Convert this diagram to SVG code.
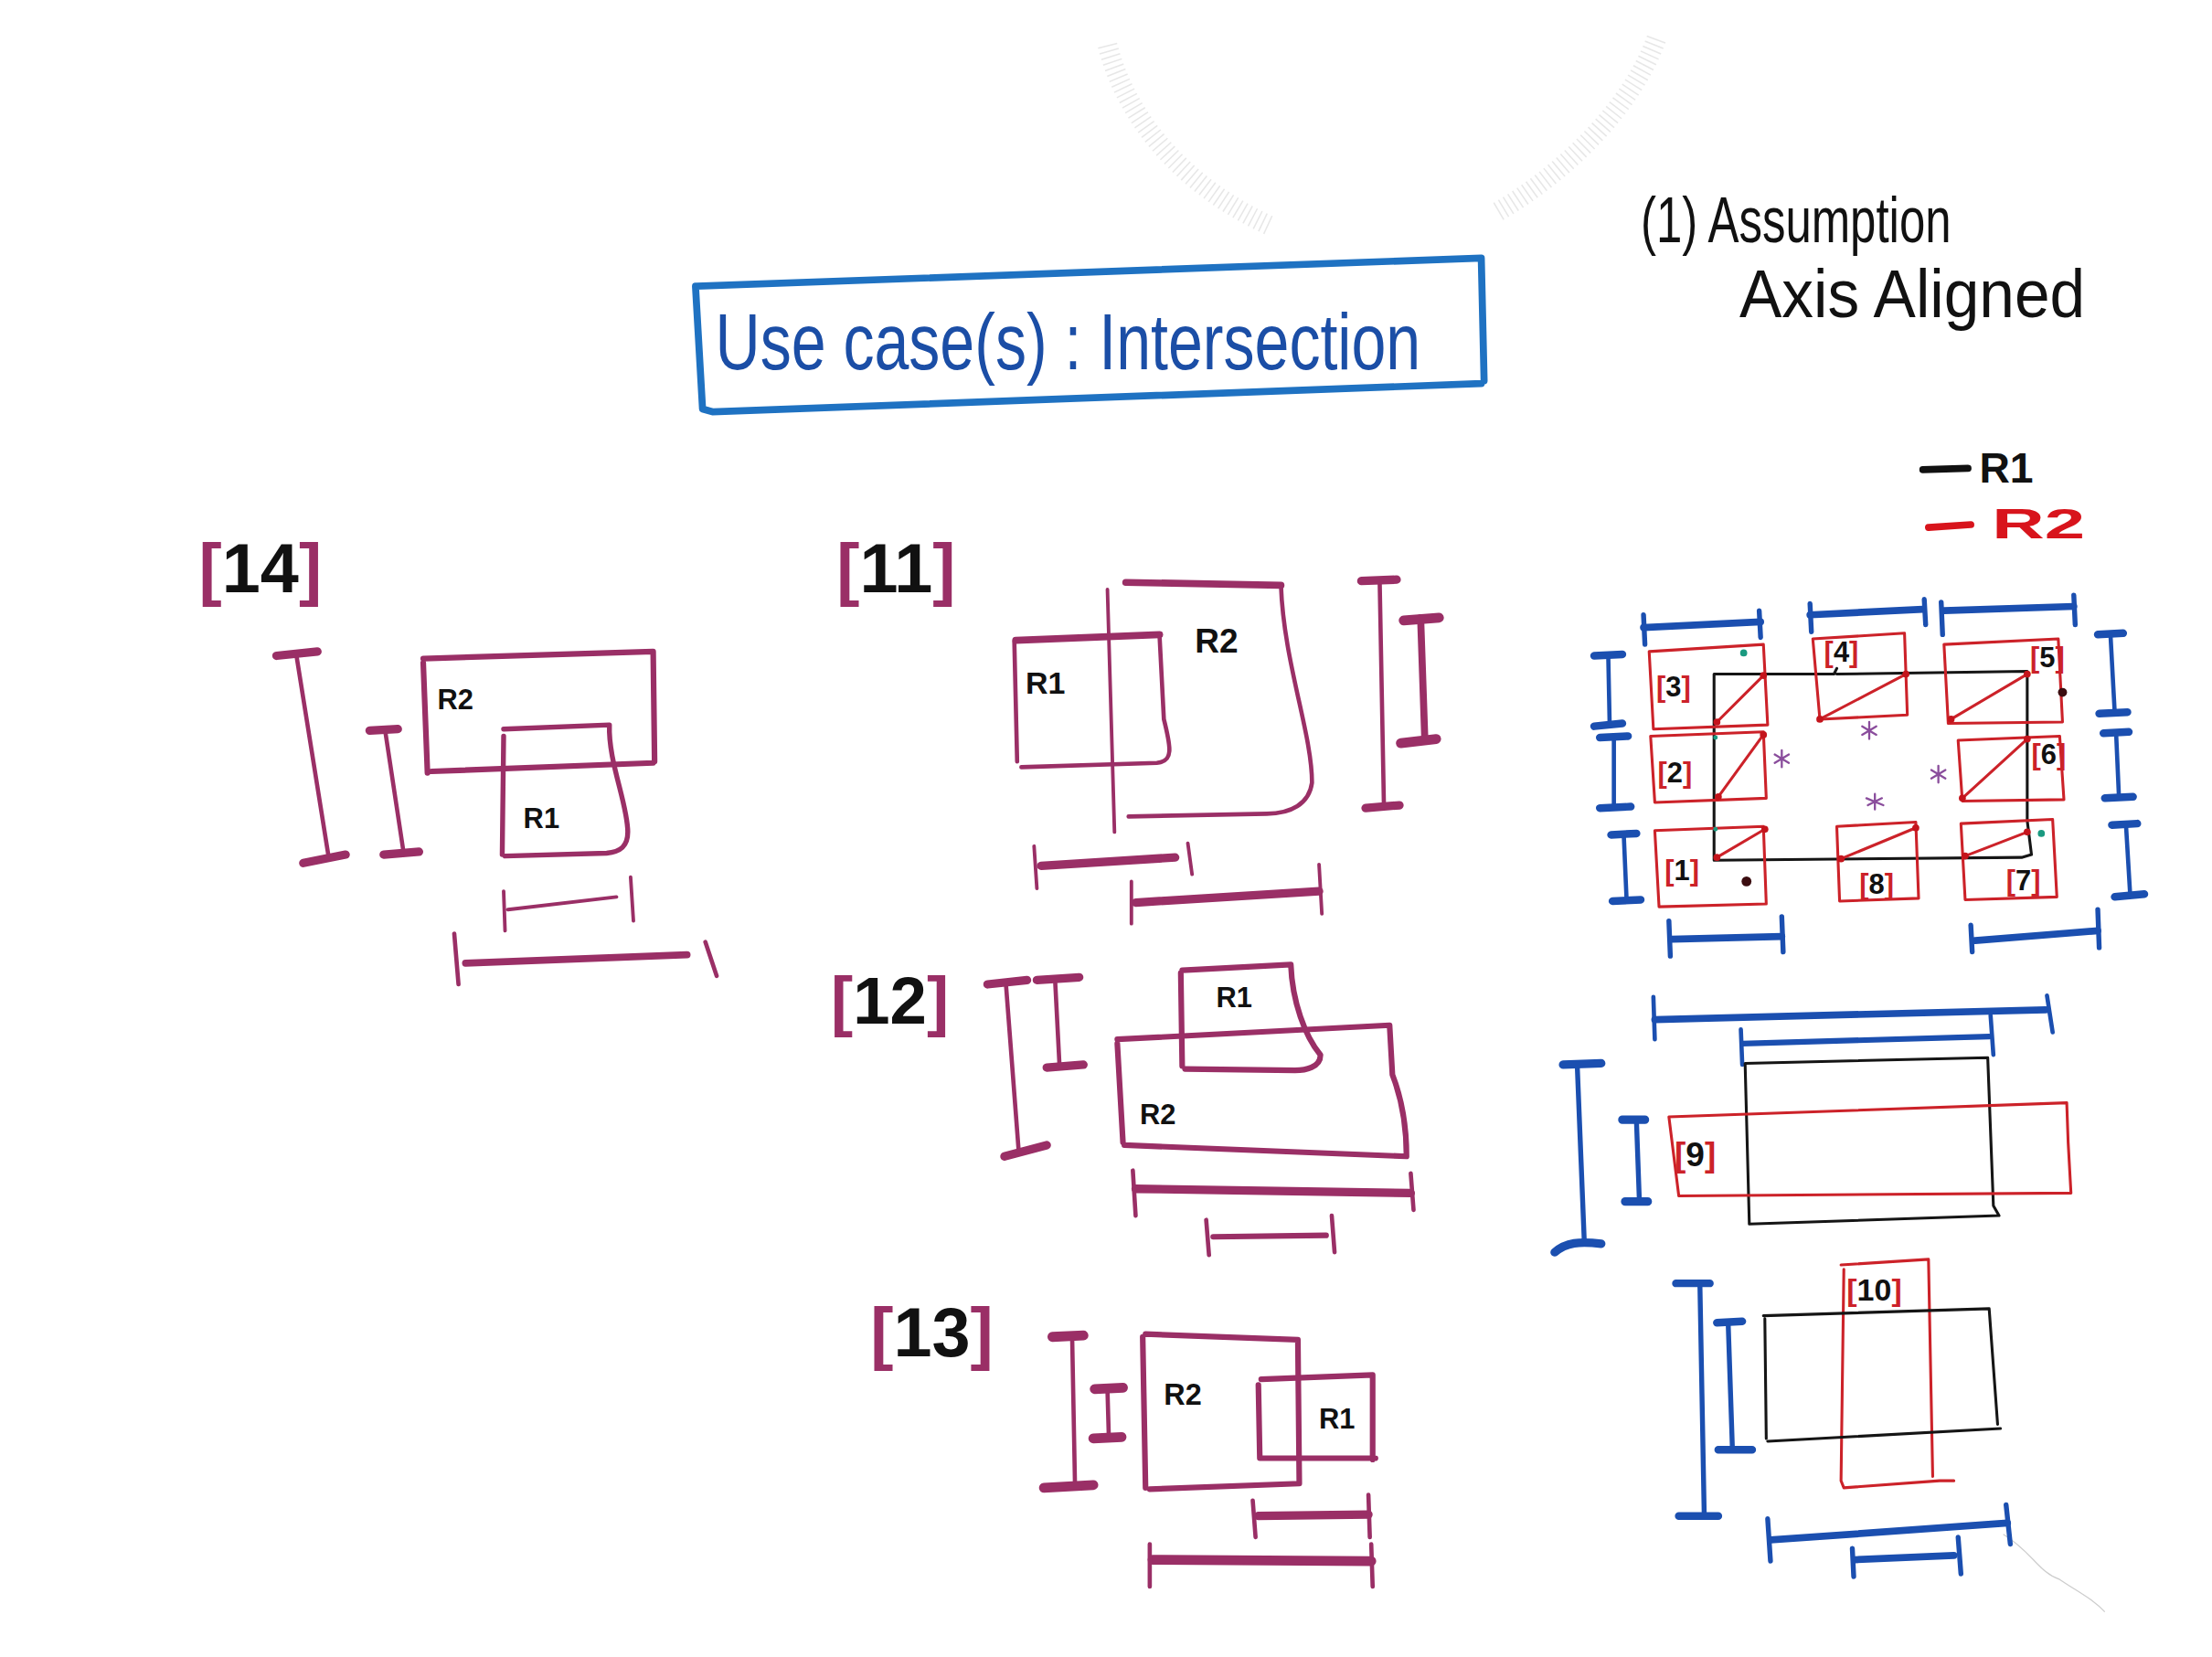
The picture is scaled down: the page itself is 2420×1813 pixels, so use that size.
<svg xmlns="http://www.w3.org/2000/svg" width="2420" height="1813" viewBox="0 0 2420 1813">
<style>
.m{stroke:#9a2f66;fill:none;stroke-linecap:round;stroke-linejoin:round}
.b{stroke:#1b4fb0;fill:none;stroke-linecap:round;stroke-linejoin:round}
.r{stroke:#cc2229;fill:none;stroke-width:2;stroke-linejoin:round;stroke-linecap:round}
.k{stroke:#151515;fill:none;stroke-width:2;stroke-linejoin:round;stroke-linecap:round}
.lbl{font-family:"Liberation Sans",Arial,sans-serif;font-weight:bold}
.rl{font-family:"Liberation Sans",Arial,sans-serif;font-weight:bold;fill:#111}
.mk{fill:#9a2f66}
.rk{fill:#cc2229}
.dk{fill:#111}
.rd{fill:#c4141c}
.ast{stroke:#8a4d9c;stroke-width:1.5;stroke-linecap:round}
</style>
<rect width="2420" height="1813" fill="#ffffff"/>
<g transform="scale(1.5434,1.543)">
<g id="smudge" opacity="0.3">
<path d="M785,32 C800,90 845,135 900,160" stroke="#b0b0b0" stroke-width="14" fill="none" stroke-dasharray="1 3"/>
<path d="M1062,150 C1110,122 1158,75 1175,25" stroke="#b0b0b0" stroke-width="14" fill="none" stroke-dasharray="1 3"/>
<path d="M1420,1088 C1440,1100 1445,1115 1460,1120 C1475,1130 1485,1135 1492,1143" stroke="#555" stroke-width="0.8" fill="none"/>
</g>

<g id="title">
<path d="M493,203 L1050,183 L1052,270 M1050,272 L505,292 L498,290 L493,203" stroke="#1f72c2" stroke-width="5" fill="none" stroke-linecap="round" stroke-linejoin="round"/>
<text x="507" y="262" font-family="Liberation Sans, Arial, sans-serif" font-size="56" fill="#1b4ea6" textLength="500" lengthAdjust="spacingAndGlyphs">Use case(s) : Intersection</text>
</g>

<g id="assumption">
<text x="1163" y="172" font-family="Liberation Sans, Arial, sans-serif" font-size="46" fill="#111" textLength="220" lengthAdjust="spacingAndGlyphs">(1) Assumption</text>
<text x="1233" y="225" font-family="Liberation Sans, Arial, sans-serif" font-size="48" fill="#111" textLength="245" lengthAdjust="spacingAndGlyphs">Axis Aligned</text>
</g>

<g id="legend">
<path d="M1363,333 L1395,332" stroke="#111" stroke-width="5" stroke-linecap="round"/>
<text x="1403" y="342" class="rl" font-size="30">R1</text>
<path d="M1367,374 L1397,372" stroke="#d8141c" stroke-width="5" stroke-linecap="round"/>
<text x="1412" y="382" class="lbl" font-size="30" fill="#d8141c" textLength="66" lengthAdjust="spacingAndGlyphs">R2</text>
</g>

<g id="case14">
<text x="141" y="420" class="lbl" font-size="49"><tspan class="mk">[</tspan><tspan class="dk">14</tspan><tspan class="mk">]</tspan></text>
<path class="m" stroke-width="3" d="M210,464 L233,608 M273,518 L286,604"/>
<path class="m" stroke-width="6" d="M196,465 L225,462 M215,612 L245,606 M262,518 L282,517 M272,606 L297,604"/>
<path class="m" stroke-width="4" d="M300,467 L463,462 L464,540 M306,547 L463,541 M300,470 L303,548"/>
<path class="m" stroke-width="3.5" d="M357,517 L432,514 C431,540 445,570 445,590 C445,600 440,604 430,605 L358,607 M357,522 L356,606"/>
<text x="310" y="503" class="rl" font-size="20">R2</text>
<text x="371" y="587" class="rl" font-size="20">R1</text>
<path class="m" stroke-width="2.5" d="M360,645 L437,636 M357,632 L358,660 M447,622 L449,653"/>
<path class="m" stroke-width="5" d="M330,683 L487,677"/>
<path class="m" stroke-width="3" d="M322,662 L325,698 M500,668 L508,692"/>
</g>

<g id="case11">
<text x="593" y="420" class="lbl" font-size="49"><tspan class="mk">[</tspan><tspan class="dk">11</tspan><tspan class="mk">]</tspan></text>
<path class="m" stroke-width="5" d="M798,413 L908,415 M720,454 L822,450"/>
<path class="m" stroke-width="3" d="M908,415 C910,470 930,520 930,555 C928,570 915,577 898,577 L800,579 M719,455 L721,540 M822,452 L825,510 C830,530 832,540 820,541 L724,544"/>
<path class="m" stroke-width="2.5" d="M785,418 L790,590"/>
<text x="727" y="492" class="rl" font-size="22">R1</text>
<text x="847" y="463" class="rl" font-size="24">R2</text>
<path class="m" stroke-width="3" d="M978,413 L981,572"/>
<path class="m" stroke-width="6" d="M965,412 L990,411 M968,573 L992,571"/>
<path class="m" stroke-width="5" d="M1007,438 L1010,525"/>
<path class="m" stroke-width="7" d="M995,440 L1020,438 M993,527 L1018,524"/>
<path class="m" stroke-width="6" d="M738,614 L833,608 M805,640 L935,632"/>
<path class="m" stroke-width="2.5" d="M733,600 L735,630 M842,598 L845,620 M802,625 L802,655 M935,613 L937,648"/>
</g>

<g id="case12">
<text x="589" y="726" class="lbl" font-size="47"><tspan class="mk">[</tspan><tspan class="dk">12</tspan><tspan class="mk">]</tspan></text>
<path class="m" stroke-width="4" d="M838,688 L915,684 C916,710 925,735 936,748 C936,757 925,759 918,759 L840,758 M837,690 L838,756"/>
<path class="m" stroke-width="4" d="M792,737 L985,727 L987,762 C994,780 997,800 997,820 M797,812 L997,820 M792,740 L796,810"/>
<text x="862" y="714" class="rl" font-size="20">R1</text>
<text x="808" y="797" class="rl" font-size="20">R2</text>
<path class="m" stroke-width="3" d="M713,697 L722,815 M748,697 L751,755"/>
<path class="m" stroke-width="6" d="M700,698 L728,695 M712,820 L742,812 M735,695 L765,693 M742,757 L768,755"/>
<path class="m" stroke-width="6" d="M805,843 L1000,846"/>
<path class="m" stroke-width="4" d="M860,877 L940,876"/>
<path class="m" stroke-width="3" d="M803,830 L805,862 M1000,832 L1002,858 M855,865 L857,890 M944,862 L946,888"/>
</g>

<g id="case13">
<text x="617" y="962" class="lbl" font-size="49"><tspan class="mk">[</tspan><tspan class="dk">13</tspan><tspan class="mk">]</tspan></text>
<path class="m" stroke-width="4" d="M812,946 L920,950 L921,1052 L815,1056 M810,948 L812,1055"/>
<path class="m" stroke-width="4" d="M894,978 L973,975 L973,1035 M892,982 L893,1034 L975,1034"/>
<text x="825" y="996" class="rl" font-size="21">R2</text>
<text x="935" y="1013" class="rl" font-size="20">R1</text>
<path class="m" stroke-width="3" d="M760,948 L762,1053 M785,985 L786,1020"/>
<path class="m" stroke-width="7" d="M746,948 L768,947 M740,1055 L775,1053 M776,985 L796,984 M775,1020 L795,1019"/>
<path class="m" stroke-width="6" d="M892,1075 L970,1074"/>
<path class="m" stroke-width="7" d="M817,1106 L972,1107"/>
<path class="m" stroke-width="3" d="M888,1064 L890,1090 M970,1060 L971,1090 M815,1095 L815,1125 M972,1095 L973,1125"/>
</g>

<g id="grid">
<path class="b" stroke-width="5" d="M1165,445 L1248,441 M1283,436 L1363,432 M1378,433 L1470,430 M1185,666 L1263,664 M1400,667 L1487,660"/>
<path class="b" stroke-width="3.5" d="M1165,436 L1166,457 M1247,433 L1248,452 M1283,428 L1284,448 M1364,425 L1365,443 M1376,427 L1377,450 M1470,422 L1471,443 M1183,653 L1184,678 M1263,650 L1264,675 M1397,656 L1398,675 M1487,645 L1488,672"/>
<path class="b" stroke-width="3" d="M1140,465 L1141,514 M1144,523 L1144,572 M1151,592 L1153,638 M1496,450 L1499,505 M1500,520 L1502,565 M1507,585 L1510,635"/>
<path class="b" stroke-width="5.5" d="M1130,465 L1150,464 M1130,515 L1150,513 M1134,523 L1154,522 M1134,573 L1156,572 M1142,592 L1160,591 M1143,639 L1163,638 M1487,450 L1505,449 M1488,506 L1508,505 M1491,520 L1509,519 M1492,566 L1512,565 M1497,585 L1515,584 M1499,636 L1520,634"/>
<path class="k" d="M1215,478 L1300,478 L1302,474 M1302,478 L1437,476 L1437,582 L1440,606 L1433,608 L1215,610 L1215,478"/>
<g id="box3"><path class="r" d="M1169,462 L1250,457 L1253,514 L1172,517 Z"/><path class="r" d="M1217,512 L1250,479"/><text x="1174" y="494" class="lbl" font-size="20"><tspan class="rk">[</tspan><tspan class="dk">3</tspan><tspan class="rk">]</tspan></text></g>
<g id="box4"><path class="r" d="M1285,453 L1350,449 L1352,507 L1290,510 Z"/><path class="r" d="M1290,510 L1351,478"/><text x="1293" y="469" class="lbl" font-size="20"><tspan class="rk">[</tspan><tspan class="dk">4</tspan><tspan class="rk">]</tspan></text></g>
<g id="box5"><path class="r" d="M1378,457 L1459,453 L1462,512 L1381,513 Z"/><path class="r" d="M1383,510 L1437,478"/><text x="1439" y="473" class="lbl" font-size="20"><tspan class="rk">[</tspan><tspan class="dk">5</tspan><tspan class="rk">]</tspan></text></g>
<g id="box2"><path class="r" d="M1170,522 L1250,519 L1252,566 L1173,569 Z"/><path class="r" d="M1218,565 L1250,521"/><text x="1175" y="555" class="lbl" font-size="20"><tspan class="rk">[</tspan><tspan class="dk">2</tspan><tspan class="rk">]</tspan></text></g>
<g id="box6"><path class="r" d="M1388,525 L1460,522 L1463,567 L1391,568 Z"/><path class="r" d="M1391,566 L1437,524"/><text x="1440" y="542" class="lbl" font-size="20"><tspan class="rk">[</tspan><tspan class="dk">6</tspan><tspan class="rk">]</tspan></text></g>
<g id="box1"><path class="r" d="M1173,589 L1250,586 L1252,641 L1176,643 Z"/><path class="r" d="M1217,608 L1251,588"/><text x="1180" y="624" class="lbl" font-size="20"><tspan class="rk">[</tspan><tspan class="dk">1</tspan><tspan class="rk">]</tspan></text></g>
<g id="box8"><path class="r" d="M1302,586 L1358,583 L1360,637 L1304,639 Z"/><path class="r" d="M1305,609 L1358,587"/><text x="1318" y="634" class="lbl" font-size="20"><tspan class="rk">[</tspan><tspan class="dk">8</tspan><tspan class="rk">]</tspan></text></g>
<g id="box7"><path class="r" d="M1390,584 L1455,581 L1458,636 L1393,638 Z"/><path class="r" d="M1393,607 L1437,590"/><text x="1422" y="631" class="lbl" font-size="20"><tspan class="rk">[</tspan><tspan class="dk">7</tspan><tspan class="rk">]</tspan></text></g>
<g id="dots">
<circle class="rd" cx="1217" cy="512" r="2.5"/><circle class="rd" cx="1250" cy="479" r="2.5"/>
<circle class="rd" cx="1290" cy="510" r="2.5"/><circle class="rd" cx="1351" cy="478" r="2.5"/>
<circle class="rd" cx="1383" cy="510" r="2.5"/><circle class="rd" cx="1437" cy="478" r="2.5"/>
<circle class="rd" cx="1218" cy="565" r="2.5"/><circle class="rd" cx="1250" cy="521" r="2.5"/>
<circle class="rd" cx="1391" cy="566" r="2.5"/><circle class="rd" cx="1437" cy="524" r="2.5"/>
<circle class="rd" cx="1217" cy="608" r="2.5"/><circle class="rd" cx="1251" cy="588" r="2.5"/>
<circle class="rd" cx="1305" cy="609" r="2.5"/><circle class="rd" cx="1358" cy="587" r="2.5"/>
<circle class="rd" cx="1393" cy="607" r="2.5"/><circle class="rd" cx="1437" cy="590" r="2.5"/>
<circle cx="1236" cy="463" r="2.5" fill="#1a9a80"/><circle cx="1447" cy="591" r="2.5" fill="#1a9a80"/>
<circle cx="1216" cy="523" r="1.6" fill="#1a9a80"/><circle cx="1216" cy="588" r="1.6" fill="#1a9a80"/>
<circle cx="1462" cy="491" r="3.2" fill="#3b0d10"/><circle cx="1238" cy="625" r="3.5" fill="#3b0d10"/>
<path class="ast" d="M1325,512 L1325,524 M1320,515 L1330,521 M1320,521 L1330,515"/>
<path class="ast" d="M1263,532 L1263,544 M1258,535 L1268,541 M1258,541 L1268,535"/>
<path class="ast" d="M1374,543 L1374,555 M1369,546 L1379,552 M1369,552 L1379,546"/>
<path class="ast" d="M1329,563 L1329,574 M1323,566 L1335,571 M1324,571 L1334,566"/>
</g>
</g>

<g id="case9">
<path class="b" stroke-width="5" d="M1173,723 L1450,716"/>
<path class="b" stroke-width="4" d="M1235,740 L1410,735"/>
<path class="b" stroke-width="3" d="M1172,707 L1173,737 M1451,706 L1455,732 M1234,730 L1235,755 M1411,720 L1413,748"/>
<path class="k" d="M1237,754 L1409,750 L1413,855 L1417,862 L1240,868 L1237,754"/>
<path class="r" d="M1183,792 L1465,782 L1466,810 L1468,846 L1190,848 Z"/>
<text x="1187" y="827" class="lbl" font-size="24"><tspan class="rk">[</tspan><tspan class="dk">9</tspan><tspan class="rk">]</tspan></text>
<path class="b" stroke-width="3.5" d="M1118,755 L1123,880 M1160,795 L1162,850"/>
<path class="b" stroke-width="6" d="M1108,755 L1135,754 M1102,888 C1110,881 1120,880 1135,882 M1150,794 L1166,794 M1152,852 L1168,852"/>
</g>

<g id="case10">
<path class="r" d="M1305,897 L1367,893 L1370,1047 M1307,900 L1305,1050 L1307,1055 L1375,1050 L1385,1050"/>
<text x="1309" y="922" class="lbl" font-size="22"><tspan class="rk">[</tspan><tspan class="dk">10</tspan><tspan class="rk">]</tspan></text>
<path class="k" d="M1250,933 L1410,928 L1416,1010 M1251,935 L1252,1020 M1253,1022 L1418,1013"/>
<path class="b" stroke-width="3.5" d="M1205,912 L1208,1073 M1225,938 L1228,1027"/>
<path class="b" stroke-width="5.5" d="M1188,910 L1212,910 M1190,1075 L1218,1075 M1217,938 L1235,937 M1218,1028 L1242,1028"/>
<path class="b" stroke-width="5" d="M1255,1092 L1423,1080 M1315,1106 L1385,1103"/>
<path class="b" stroke-width="3.5" d="M1253,1077 L1255,1107 M1422,1067 L1425,1095 M1313,1098 L1314,1118 M1388,1090 L1390,1116"/>
</g>
</g>
</svg>
